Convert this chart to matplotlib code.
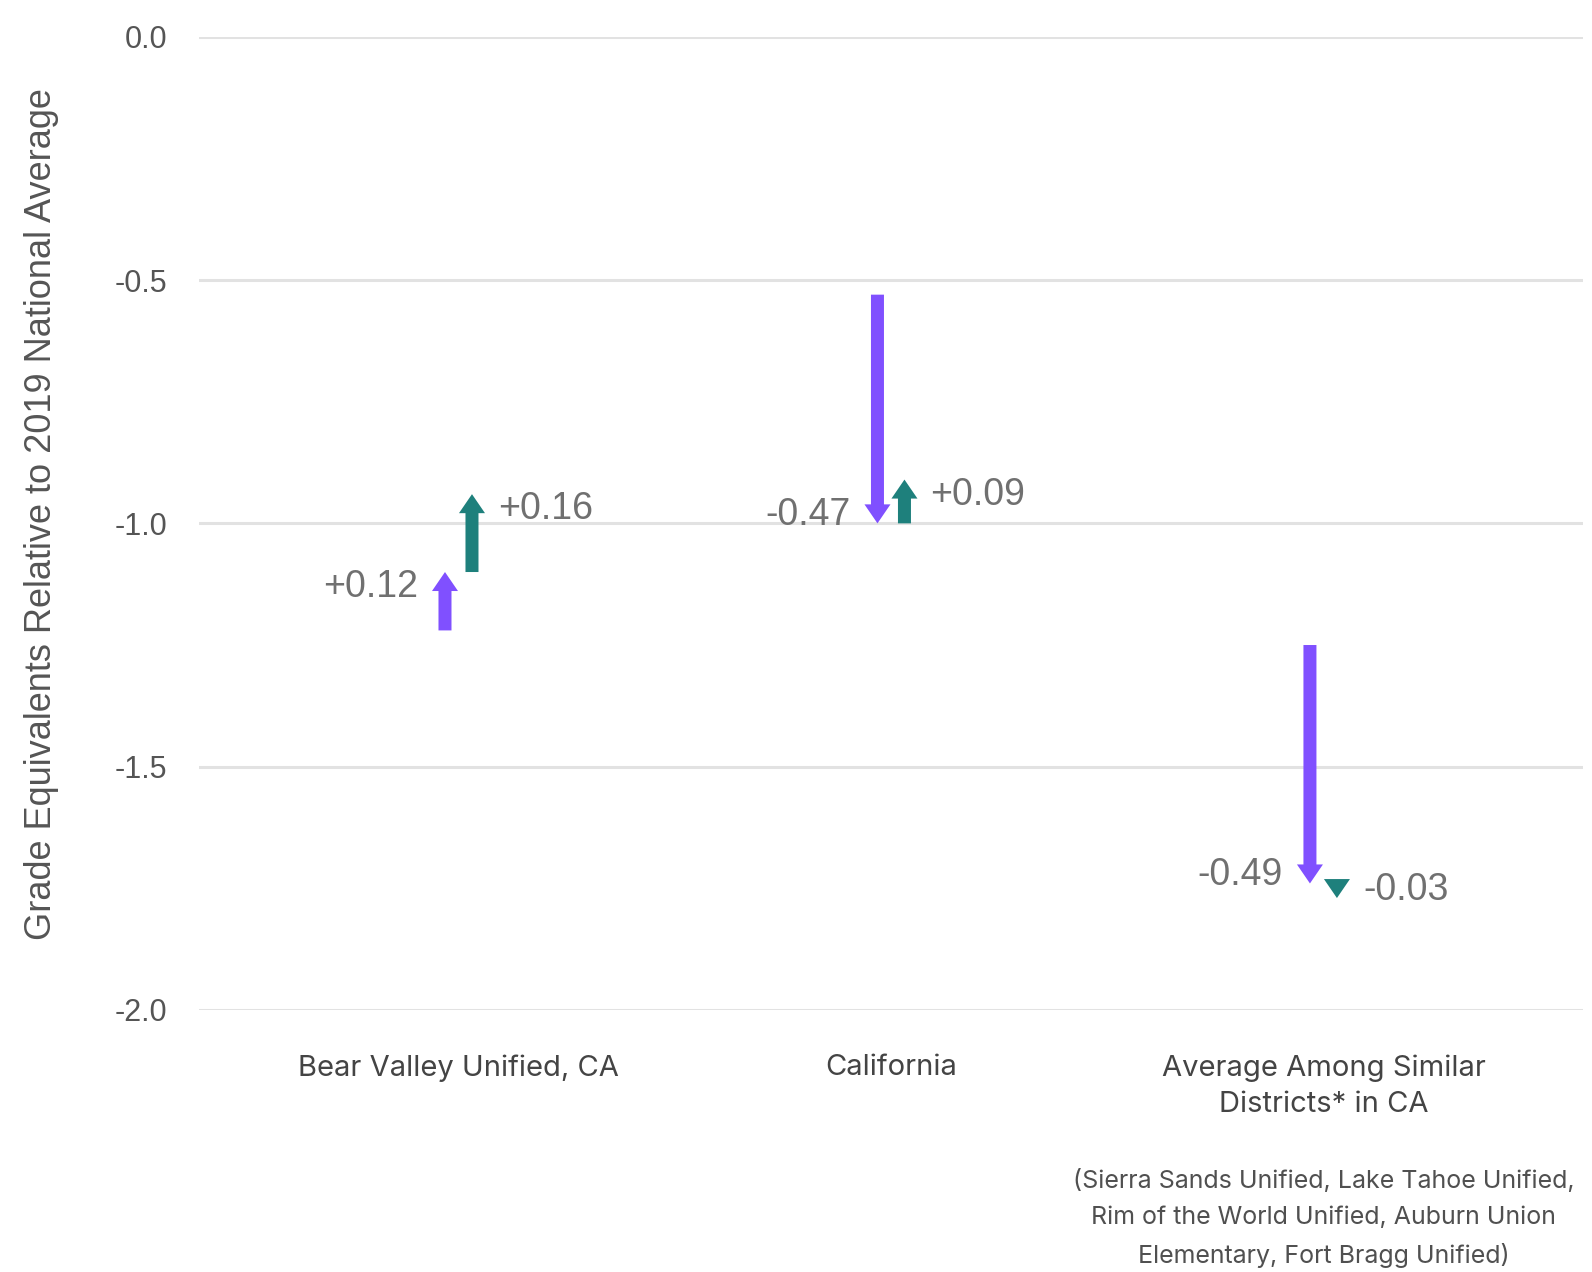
import matplotlib
matplotlib.use("Agg")
import matplotlib.pyplot as plt


# data
categories = ["Bear Valley Unified, CA", "California",
              "Average Among Similar\nDistricts* in CA"]
start_2019 = [-1.22, -0.53, -1.25]      # start of purple arrow
change_1 = [0.12, -0.47, -0.49]         # purple arrow
change_2 = [0.16, 0.09, -0.03]          # teal arrow
note = ("(Sierra Sands Unified, Lake Tahoe Unified,\n"
        "Rim of the World Unified, Auburn Union\n"
        "Elementary, Fort Bragg Unified)")

PURPLE = "#8050ff"
TEAL = "#1e807c"
GRID = "#e2e2e2"

fig = plt.figure(figsize=(15.92, 12.72), dpi=100)
ax = fig.add_axes([0.125, 0.206, 0.8693, 0.7651])

ax.set_xlim(-0.6, 2.6)
ax.set_ylim(-2.0, 0.0)

# pixel sizes -> data units (432.5 px per x unit, 486.7 px per y unit)
dx = 13.5 / 432.5
shaft = 13 / 432.5
head_w = 26 / 432.5
head_l = 19 / 486.7


def draw_arrow(x, y_from, dy, color):
    # short changes show only the head, with the tip kept at the end value
    if abs(dy) < head_l:
        sign = 1 if dy > 0 else -1
        y_from = y_from + dy - sign * head_l
        dy = sign * head_l
    ax.arrow(x, y_from, 0, dy, width=shaft, head_width=head_w,
             head_length=head_l, length_includes_head=True,
             color=color, lw=0, zorder=3)


for i, cat in enumerate(categories):
    y0 = start_2019[i]
    y1 = y0 + change_1[i]
    y2 = y1 + change_2[i]
    xp = i - dx
    xt = i + dx
    draw_arrow(xp, y0, change_1[i], PURPLE)
    draw_arrow(xt, y1, change_2[i], TEAL)

    off1 = -15 if change_1[i] > 0 else 8
    off2 = -15 if change_2[i] > 0 else 8
    ax.annotate(f"{change_1[i]:+.2f}", xy=(xp, y1), xytext=(-27, off1),
                textcoords="offset pixels", ha="right", va="center",
                fontsize=27, color="#707070", family="Liberation Sans")
    ax.annotate(f"{change_2[i]:+.2f}", xy=(xt, y2), xytext=(26, off2),
                textcoords="offset pixels", ha="left", va="center",
                fontsize=27, color="#707070", family="Liberation Sans")

ax.set_yticks([0.0, -0.5, -1.0, -1.5, -2.0])
ax.set_yticklabels(["0.0", "-0.5", "-1.0", "-1.5", "-2.0"],
                   family="Liberation Sans", fontsize=22, color="#555555")
ax.set_xticks(range(len(categories)))
ax.set_xticklabels(categories, family="Inter", fontsize=21, color="#444444",
                   linespacing=1.45, va="top")
ax.tick_params(axis="y", length=0, pad=23)
ax.tick_params(axis="x", length=0, pad=32)

ax.grid(axis="y", color=GRID, lw=2.2)
ax.set_axisbelow(True)
for s in ax.spines.values():
    s.set_visible(False)

ax.set_ylabel("Grade Equivalents Relative to 2019 National Average",
              family="Liberation Sans", fontsize=26, color="#555555")
ax.yaxis.set_label_coords(-0.101, 0.51)

ax.text(2.0, -0.163, note, transform=ax.get_xaxis_transform(),
        ha="center", va="top", family="Inter", fontsize=18,
        color="#505050", linespacing=1.72)

fig.savefig("out.png", dpi=100)
